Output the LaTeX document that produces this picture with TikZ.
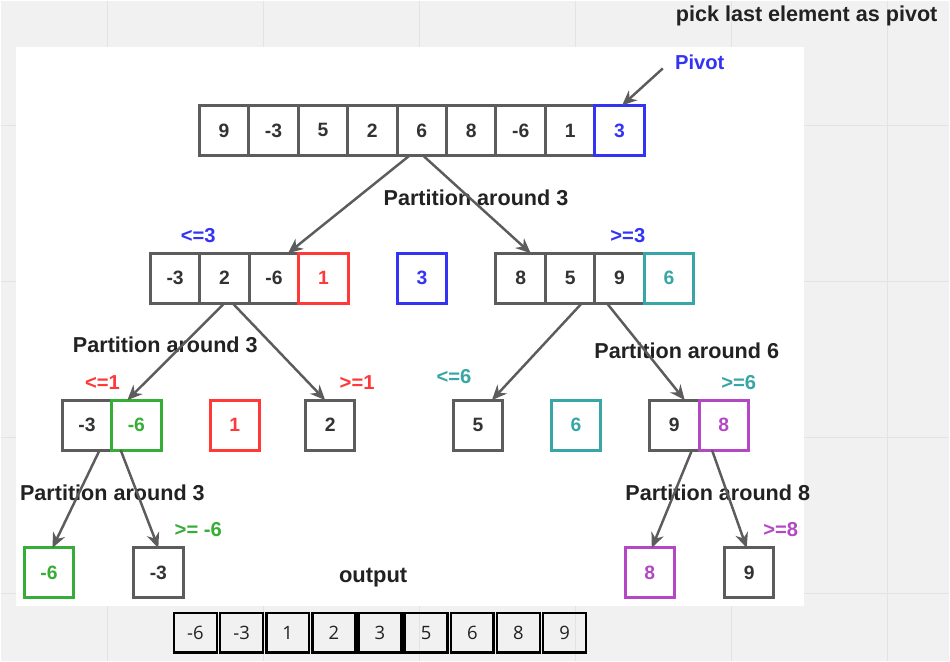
\documentclass[tikz,border=0pt]{standalone}
\usepackage{fontspec}
\setmainfont{Liberation Sans}
\newfontfamily\outfont{Open Sans}
\usetikzlibrary{arrows.meta}

\definecolor{boardgray}{HTML}{F1F1F1}
\definecolor{gridgray}{HTML}{E3E3E3}
\definecolor{boxgray}{HTML}{5C5C5C}
\definecolor{txtgray}{HTML}{333333}
\definecolor{txtdark}{HTML}{222222}
\definecolor{pivblue}{HTML}{3333F5}
\definecolor{lowred}{HTML}{FF3838}
\definecolor{sixteal}{HTML}{38A6A6}
\definecolor{negreen}{HTML}{36AD36}
\definecolor{eightpurple}{HTML}{B448C4}

\tikzset{
  cell/.style={draw=boxgray, line width=1.7pt, minimum width=0.99cm, minimum height=1cm,
    inner sep=0pt, outer sep=0pt, text=txtgray, font=\fontsize{11}{13}\selectfont\bfseries},
  outcell/.style={draw=black, line width=1.5pt, minimum width=0.86cm, minimum height=0.8cm,
    inner sep=0pt, text=txtdark, font=\outfont\fontsize{10.5}{12}\selectfont},
  note/.style={text=txtdark, font=\fontsize{12.3}{14}\selectfont\bfseries},
  tag/.style={font=\fontsize{11.5}{13}\selectfont\bfseries},
  split/.style={draw=boxgray, line width=1.4pt, -{Stealth[length=0.3cm,width=0.26cm]}},
}

\begin{document}
\begin{tikzpicture}[x=0.02cm,y=-0.02cm]
    % board and sheet
    \fill[boardgray] (0,0) rectangle (950,661);
    \draw[gridgray, line width=0.6pt] (107,0)--(107,661) (263.2,0)--(263.2,661) (419.4,0)--(419.4,661)
        (575.6,0)--(575.6,661) (731.8,0)--(731.8,661) (888,0)--(888,661)
        (0,125.5)--(950,125.5) (0,281.5)--(950,281.5) (0,437.5)--(950,437.5) (0,593.5)--(950,593.5);
    \fill[white] (15,47) rectangle (804,606);
    \useasboundingbox (0,0) rectangle (950,661);

    \node[note] (title) at (807,15){pick last element as pivot};

    % input array
    \node[cell] (t1) at (223.75,130){9};
    \node[cell] (t2) at (273.25,130){-3};
    \node[cell] (t3) at (322.75,130){5};
    \node[cell] (t4) at (372.25,130){2};
    \node[cell] (t5) at (421.75,130){6};
    \node[cell] (t6) at (471.25,130){8};
    \node[cell] (t7) at (520.75,130){-6};
    \node[cell] (t8) at (570.25,130){1};
    \node[cell, draw=pivblue, text=pivblue] (t9) at (619.75,130){3};
    \node[tag, text=pivblue] (pivot) at (700,62){Pivot};
    \coordinate (pv) at (663,68);
    \draw[split] (pv) -- ([xshift=0.05cm]t9.north);

    % first split
    \node[note] (s1) at (476,197){Partition around 3};
    \node[cell] (p1) at (174.75,278){-3};
    \node[cell] (p2) at (224.25,278){2};
    \node[cell] (p3) at (273.75,278){-6};
    \node[cell, draw=lowred, text=lowred] (p4) at (323.25,278){1};
    \node[cell, draw=pivblue, text=pivblue] (piv2) at (422,278){3};
    \node[cell] (q1) at (520.75,278){8};
    \node[cell] (q2) at (570.25,278){5};
    \node[cell] (q3) at (619.75,278){9};
    \node[cell, draw=sixteal, text=sixteal] (q4) at (669.25,278){6};
    \node[tag, text=pivblue] (le3) at (198,235){<=3};
    \node[tag, text=pivblue] (ge3) at (628,235){>=3};
    \draw[split] ([xshift=-0.24cm]t5.south) -- ([xshift=0.28cm]p3.north);
    \draw[split] ([xshift=0.02cm]t5.south) -- ([xshift=0.2cm]q1.north);

    % second level
    \node[note] (s2) at (165,345){Partition around 3};
    \node[note] (s3) at (687,351){Partition around 6};
    \node[cell] (m1) at (86.5,425){-3};
    \node[cell, draw=negreen, text=negreen] (m2) at (136,425){-6};
    \node[cell, draw=lowred, text=lowred] (m3) at (234.5,425){1};
    \node[cell] (m4) at (330,425){2};
    \node[cell] (n1) at (478,425){5};
    \node[cell, draw=sixteal, text=sixteal] (n2) at (576,425){6};
    \node[cell] (n3) at (674.5,425){9};
    \node[cell, draw=eightpurple, text=eightpurple] (n4) at (724,425){8};
    \node[tag, text=lowred] (le1) at (102,382){<=1};
    \node[tag, text=lowred] (ge1) at (357,382){>=1};
    \node[tag, text=sixteal] (le6) at (454,376){<=6};
    \node[tag, text=sixteal] (ge6) at (739,382){>=6};
    \draw[split] (p2.south) -- ([xshift=-0.18cm]m2.north);
    \draw[split] ([xshift=0.16cm]p2.south) -- ([xshift=-0.1cm]m4.north);
    \draw[split] ([xshift=-0.26cm]q3.south west) -- ([xshift=0.28cm]n1.north);
    \draw[split] ([xshift=0.24cm]q3.south west) -- ([xshift=0.21cm]n3.north);

    % last level
    \node[note] (s4) at (112,493){Partition around 3};
    \node[note] (s5) at (718,493){Partition around 8};
    \node[cell, draw=negreen, text=negreen] (b1) at (48.5,573){-6};
    \node[cell] (b2) at (158,573){-3};
    \node[cell, draw=eightpurple, text=eightpurple] (b3) at (650,573){8};
    \node[cell] (b4) at (749.5,573){9};
    \node[tag, text=negreen] (gen6) at (198,530){>= -6};
    \node[tag, text=eightpurple] (ge8) at (781,530){>=8};
    \draw[split] ([xshift=-0.24cm]m2.south west) -- ([xshift=0.07cm]b1.north);
    \draw[split] ([xshift=0.18cm]m2.south west) -- (b2.north);
    \draw[split] ([xshift=-0.14cm]n4.south west) -- ([xshift=0.04cm]b3.north);
    \draw[split] ([xshift=0.26cm]n4.south west) -- ([xshift=-0.05cm]b4.north);

    % sorted output
    \node[note, font=\fontsize{12.5}{14}\selectfont\bfseries] (out) at (373,578){output};
    \node[outcell] (o1) at (195.1,633){-6};
    \node[outcell] (o2) at (241.3,633){-3};
    \node[outcell] (o3) at (287.5,633){1};
    \node[outcell] (o4) at (333.7,633){2};
    \node[outcell] (o5) at (379.9,633){3};
    \node[outcell] (o6) at (426.1,633){5};
    \node[outcell] (o7) at (472.3,633){6};
    \node[outcell] (o8) at (518.5,633){8};
    \node[outcell] (o9) at (564.7,633){9};
\end{tikzpicture}
\end{document}
